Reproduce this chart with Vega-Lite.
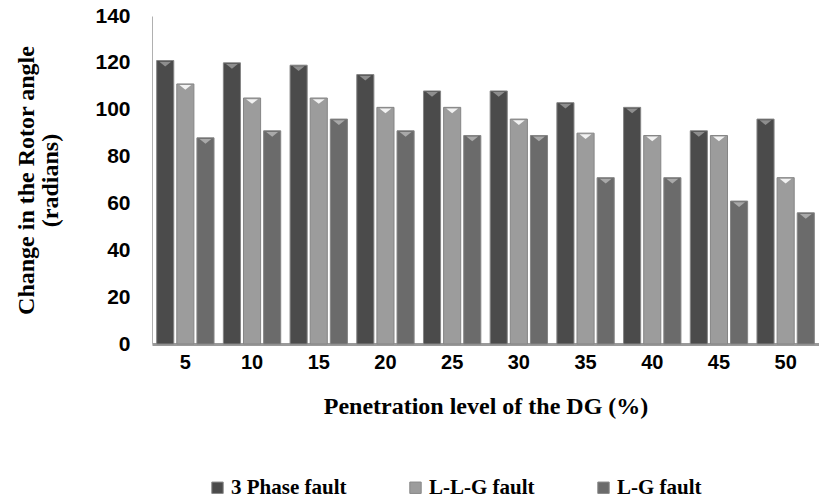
{
  "$schema": "https://vega.github.io/schema/vega-lite/v6.json",
  "width": 667,
  "height": 328,
  "padding": {"left": 152, "top": 16, "right": 0, "bottom": 156},
  "autosize": {"type": "none"},
  "background": "white",
  "config": {"view": {"stroke": null}},
  "data": {"values": [
    {"level": "5", "fault": "3 Phase fault", "value": 121},
    {"level": "5", "fault": "L-L-G fault", "value": 111},
    {"level": "5", "fault": "L-G fault", "value": 88},
    {"level": "10", "fault": "3 Phase fault", "value": 120},
    {"level": "10", "fault": "L-L-G fault", "value": 105},
    {"level": "10", "fault": "L-G fault", "value": 91},
    {"level": "15", "fault": "3 Phase fault", "value": 119},
    {"level": "15", "fault": "L-L-G fault", "value": 105},
    {"level": "15", "fault": "L-G fault", "value": 96},
    {"level": "20", "fault": "3 Phase fault", "value": 115},
    {"level": "20", "fault": "L-L-G fault", "value": 101},
    {"level": "20", "fault": "L-G fault", "value": 91},
    {"level": "25", "fault": "3 Phase fault", "value": 108},
    {"level": "25", "fault": "L-L-G fault", "value": 101},
    {"level": "25", "fault": "L-G fault", "value": 89},
    {"level": "30", "fault": "3 Phase fault", "value": 108},
    {"level": "30", "fault": "L-L-G fault", "value": 96},
    {"level": "30", "fault": "L-G fault", "value": 89},
    {"level": "35", "fault": "3 Phase fault", "value": 103},
    {"level": "35", "fault": "L-L-G fault", "value": 90},
    {"level": "35", "fault": "L-G fault", "value": 71},
    {"level": "40", "fault": "3 Phase fault", "value": 101},
    {"level": "40", "fault": "L-L-G fault", "value": 89},
    {"level": "40", "fault": "L-G fault", "value": 71},
    {"level": "45", "fault": "3 Phase fault", "value": 91},
    {"level": "45", "fault": "L-L-G fault", "value": 89},
    {"level": "45", "fault": "L-G fault", "value": 61},
    {"level": "50", "fault": "3 Phase fault", "value": 96},
    {"level": "50", "fault": "L-L-G fault", "value": 71},
    {"level": "50", "fault": "L-G fault", "value": 56}
  ]},
  "encoding": {
    "x": {
      "field": "level", "type": "nominal", "sort": null,
      "scale": {"paddingInner": 0.14, "paddingOuter": 0.07},
      "axis": {
        "title": "Penetration level of the DG (%)",
        "labelAngle": 0, "ticks": false, "domain": true,
        "domainColor": "#9a9a9a", "domainWidth": 3,
        "labelFont": "Liberation Sans", "labelFontSize": 20, "labelFontWeight": "bold", "labelColor": "#000",
        "labelPadding": 8,
        "titleFont": "Liberation Serif", "titleFontSize": 24, "titleFontWeight": "bold", "titleColor": "#000",
        "titlePadding": 22
      }
    },
    "xOffset": {"field": "fault", "type": "nominal", "sort": ["3 Phase fault", "L-L-G fault", "L-G fault"], "scale": {"paddingInner": 0.15}},
    "y": {
      "field": "value", "type": "quantitative",
      "scale": {"domain": [0, 140]},
      "axis": {
        "values": [0, 20, 40, 60, 80, 100, 120, 140],
        "title": ["Change in the Rotor angle", "(radians)"],
        "grid": false, "ticks": false,
        "domainColor": "#b0b0b0", "domainWidth": 1,
        "labelFont": "Liberation Sans", "labelFontSize": 21, "labelFontWeight": "bold", "labelColor": "#000",
        "labelPadding": 22,
        "titleFont": "Liberation Serif", "titleFontSize": 24, "titleFontWeight": "bold", "titleColor": "#000",
        "titlePadding": 32, "titleLineHeight": 24
      }
    }
  },
  "layer": [
    {
      "mark": {"type": "bar", "stroke": "#858585", "strokeWidth": 1},
      "encoding": {
        "color": {
          "field": "fault", "type": "nominal",
          "sort": ["3 Phase fault", "L-L-G fault", "L-G fault"],
          "scale": {"domain": ["3 Phase fault", "L-L-G fault", "L-G fault"], "range": ["#4b4b4b", "#9c9c9c", "#6b6b6b"]},
          "legend": {
            "title": null, "orient": "none", "direction": "horizontal",
            "legendX": 55, "legendY": 461,
            "symbolType": "square", "symbolSize": 130, "symbolStrokeColor": "#888", "symbolStrokeWidth": 1,
            "labelFont": "Liberation Serif", "labelFontSize": 21, "labelFontWeight": "bold", "labelColor": "#000",
            "columnPadding": 58, "labelOffset": 3
          }
        }
      }
    },
    {
      "mark": {"type": "point", "shape": "M-1,-0.4L1,-0.4L0,0.4Z", "filled": true, "opacity": 1, "size": 140, "yOffset": 3.5, "strokeWidth": 0},
      "encoding": {
        "fill": {
          "field": "fault", "type": "nominal",
          "scale": {"domain": ["3 Phase fault", "L-L-G fault", "L-G fault"], "range": ["#8e8e8e", "#f2f2f2", "#a9a9a9"]},
          "legend": null
        }
      }
    }
  ]
}
